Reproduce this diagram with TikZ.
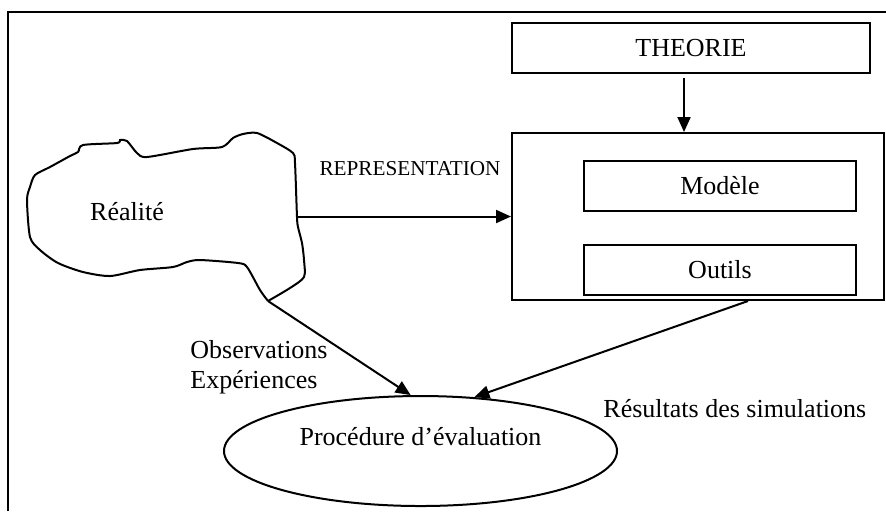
\documentclass[tikz,border=0pt]{standalone}
\usepackage{fontspec}
\setmainfont{Liberation Serif}
\usetikzlibrary{shapes.geometric}
\usetikzlibrary{positioning}
\usetikzlibrary{arrows.meta}
\tikzstyle{block} = [rectangle, minimum width=136pt, minimum height=25pt, text centered, draw=black, line width=1pt, inner sep=0pt]
\tikzstyle{arrow} = [line width=1pt,-{Triangle[length=7.5pt,width=6.5pt]}]

\begin{document}
\begin{tikzpicture}[x=0.5pt, y=-0.5pt, font=\fontsize{13}{15}\selectfont]
        \useasboundingbox (0,0) rectangle (886,511);
        \draw [line width=1pt] (8,511) -- (8,12) -- (886,12);

        \node (theorie) [block, minimum width=179pt] at (691,48) {THEORIE};
        \node (cadre) [block, minimum width=186pt, minimum height=83.5pt] at (698,216.5) {};
        \node (modele) [block] at (720,186) {Modèle};
        \node (outils) [block, below=16pt of modele] {Outils};
        \node (eval) [ellipse, draw=black, line width=1pt, minimum width=196.5pt, minimum height=55pt, inner sep=0pt, text height=9pt, text depth=15pt] at (420.5,451) {Procédure d’évaluation};

        % la realite
        \draw [line width=1pt] plot [smooth, tension=0.45] coordinates {(268,301) (290,288) (304,277) (304,260) (302,243) (298,227) (297,217) (295,163) (293,153) (277,143) (257,133) (243,134) (233,138) (222,147) (193,149) (147,157) (137,153) (127,141) (120,140) (117,143) (83,145) (78,152) (70,156) (50,167) (35,175) (30,187) (27,200) (30,237) (40,250) (58,263) (83,272) (110,276) (140,270) (173,267) (187,262) (200,260) (238,263) (247,267) (260,290) (268,301)};
        \node (realite) at (127,212) {Réalité};
        \coordinate (blobE) at (297,216.5);
        \coordinate (blobS) at (268,301);

        \node (repr) [font=\fontsize{10.6}{12}\selectfont] at (410,169) {REPRESENTATION};
        \node (obs) [align=left, anchor=west, inner sep=0pt] at (190,367) {Observations\\Expériences};
        \node (res) [anchor=west, inner sep=0pt] at (603,409) {Résultats des simulations};

        \draw [arrow] (blobE) -- (cadre.west);
        \draw [arrow] ([xshift=-3.5pt,yshift=-2pt]theorie.south) -- ([xshift=-7pt]cadre.north);
        \draw [arrow] (blobS) -- (eval.100);
        \draw [arrow] ([xshift=25pt]cadre.south) -- (eval.45);
    \end{tikzpicture}
\end{document}
